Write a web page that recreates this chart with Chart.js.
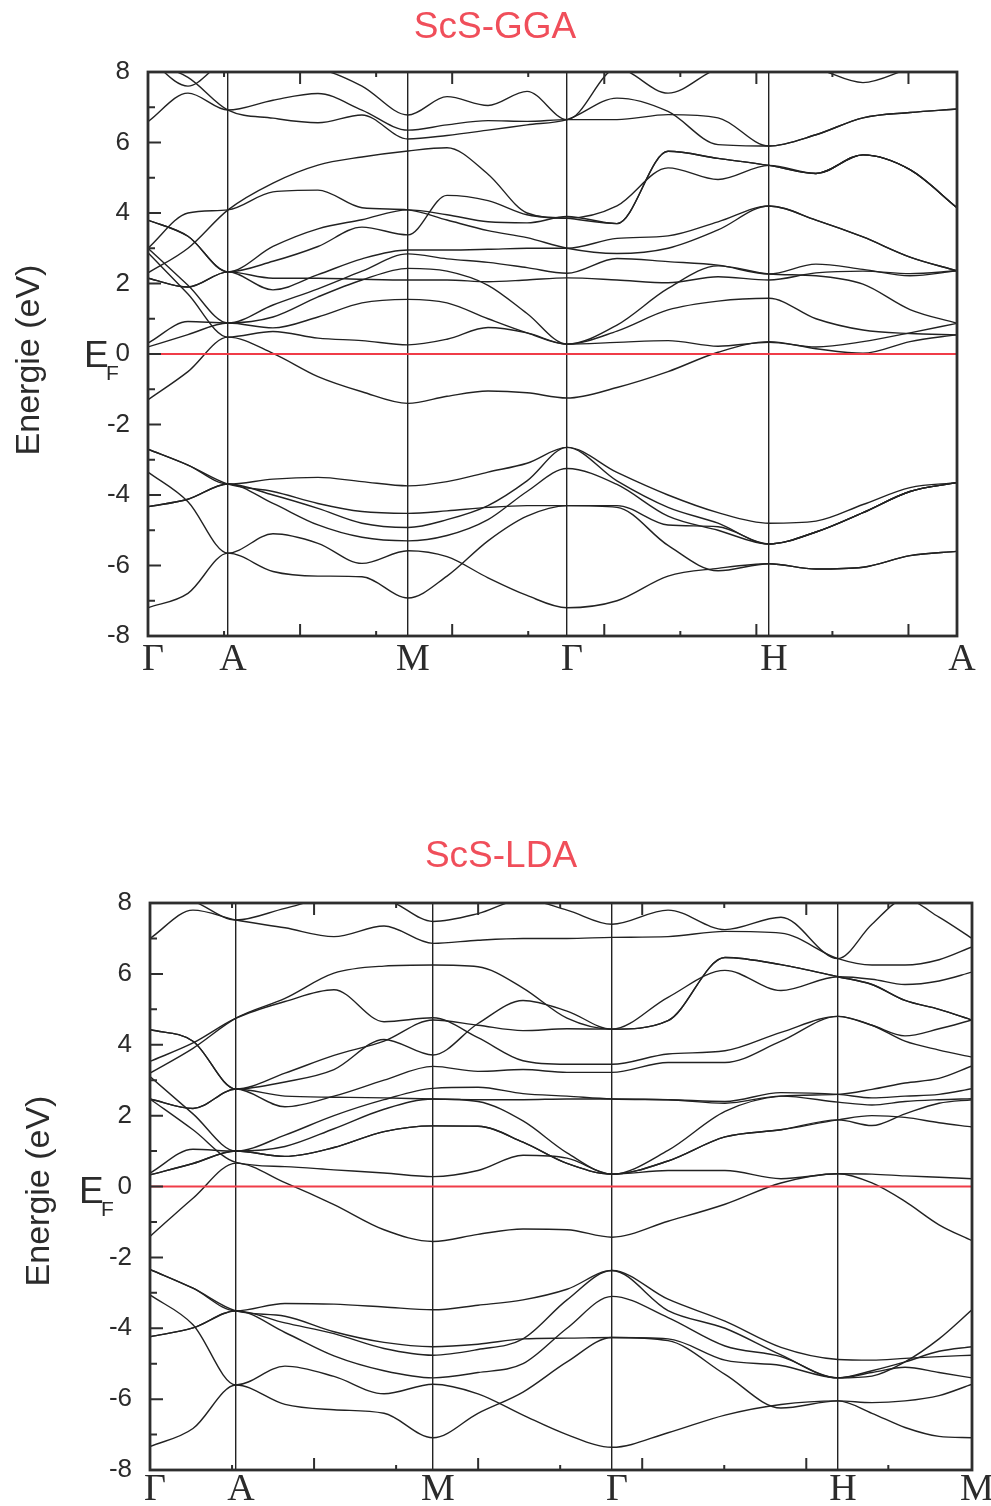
<!DOCTYPE html>
<html>
<head>
<meta charset="utf-8">
<script src="https://cdn.jsdelivr.net/npm/chart.js@4.4.0/dist/chart.umd.min.js"></script>
<style>
  html, body { margin: 0; padding: 0; background: #fff; }
  .panel { position: absolute; left: 0; }
  #gga-wrap { top: 0; }
  #lda-wrap { top: 780px; }
</style>
</head>
<body>
<div class="panel" id="gga-wrap"><canvas id="gga" width="991" height="700"></canvas></div>
<div class="panel" id="lda-wrap"><canvas id="lda" width="991" height="726"></canvas></div>
<script>
// k-path: high-symmetry points and sampling positions along the path
const symLabelsGGA = ['Γ', 'A', 'M', 'Γ', 'H', 'A'];
const symKGGA = [0, 0.0989, 0.3214, 0.5179, 0.7676, 1];
const kGGA = [0, 0.0494, 0.0989, 0.1545, 0.2101, 0.2645, 0.3214, 0.3696, 0.4203, 0.4685,
              0.5179, 0.5797, 0.6428, 0.7046, 0.7676, 0.8257, 0.8838, 0.9419, 1];

const symLabelsLDA = ['Γ', 'A', 'M', 'Γ', 'H', 'M'];
const symKLDA = [0, 0.1046, 0.3443, 0.5620, 0.8370, 1];
const kLDA = [0, 0.0523, 0.1046, 0.1642, 0.2238, 0.2847, 0.3443, 0.3990, 0.4538, 0.5073,
              0.5620, 0.6302, 0.6995, 0.7676, 0.8370, 0.8783, 0.9185, 0.9599, 1];

const energyTicks = [-8, -6, -4, -2, 0, 2, 4, 6, 8];
const fermiLevel = 0;

// ScS GGA bands (eV), one value per k sample
const ggaV1 = [-2.70, -3.15, -3.69, -3.55, -3.50, -3.62, -3.74, -3.62, -3.35, -3.10, -2.65, -3.36, -4.00, -4.50, -4.80, -4.74, -4.27, -3.79, -3.65];
const ggaV2 = [-2.70, -3.15, -3.69, -3.90, -4.24, -4.47, -4.52, -4.45, -4.35, -4.30, -4.30, -4.30, -4.85, -4.90, -5.39, -5.05, -4.50, -3.90, -3.65];
const ggaV3 = [-3.35, -4.19, -5.65, -5.10, -5.37, -5.94, -5.58, -5.75, -6.35, -6.85, -7.20, -7.00, -6.30, -6.08, -5.95, -6.10, -6.05, -5.72, -5.60];
const ggaV4 = [-4.33, -4.12, -3.69, -4.00, -4.38, -4.80, -4.92, -4.70, -4.30, -3.60, -2.65, -3.60, -4.35, -4.80, -5.39, -5.05, -4.50, -3.90, -3.65];
const ggaV5 = [-7.20, -6.79, -5.65, -6.17, -6.30, -6.32, -6.92, -6.30, -5.30, -4.60, -4.30, -4.35, -5.43, -6.15, -5.95, -6.10, -6.05, -5.72, -5.60];
const ggaV6 = [-4.33, -4.12, -3.69, -4.24, -4.85, -5.20, -5.30, -5.15, -4.70, -3.90, -3.25, -3.70, -4.60, -5.00, -5.39, -5.05, -4.50, -3.90, -3.65];
const ggaF  = [-1.30, -0.50, 0.48, 0.02, -0.64, -1.07, -1.40, -1.20, -1.05, -1.10, -1.25, -0.95, -0.50, 0.05, 0.35, 0.15, 0.02, 0.35, 0.55];
const ggaC1 = [0.20, 0.55, 0.88, 0.74, 1.05, 1.45, 1.55, 1.45, 1.00, 0.60, 0.28, 0.65, 1.25, 1.50, 1.58, 1.00, 0.68, 0.58, 0.54];
const ggaC2 = [2.87, 1.70, 0.48, 0.64, 0.45, 0.38, 0.26, 0.42, 0.75, 0.60, 0.28, 0.33, 0.38, 0.22, 0.33, 0.20, 0.35, 0.60, 0.87];
const ggaC3 = [0.31, 0.92, 0.88, 1.05, 1.62, 2.10, 2.43, 2.35, 1.95, 1.15, 0.28, 0.82, 1.86, 2.50, 2.27, 2.22, 1.98, 1.26, 0.87];
const ggaC4 = [2.15, 1.90, 2.33, 2.15, 2.15, 2.12, 2.10, 2.10, 2.05, 2.10, 2.16, 2.10, 2.02, 2.19, 2.10, 2.30, 2.35, 2.28, 2.36];
const ggaC5 = [3.00, 1.95, 0.88, 1.39, 1.85, 2.35, 2.84, 2.70, 2.60, 2.45, 2.29, 2.71, 2.62, 2.52, 2.27, 2.55, 2.40, 2.22, 2.36];
const ggaC6 = [2.15, 1.90, 2.33, 1.82, 2.25, 2.70, 2.95, 2.95, 2.97, 3.00, 3.00, 3.28, 3.35, 3.75, 4.20, 3.80, 3.32, 2.75, 2.36];
const ggaC7 = [3.00, 4.00, 4.09, 4.60, 4.65, 4.15, 4.09, 3.80, 3.50, 3.30, 3.00, 2.85, 3.00, 3.52, 4.20, 3.80, 3.32, 2.75, 2.36];
const ggaC8 = [3.80, 3.34, 2.33, 3.05, 3.55, 3.81, 4.09, 3.95, 3.75, 3.72, 3.90, 3.70, 5.75, 5.55, 5.35, 5.12, 5.65, 5.23, 4.15];
const ggaC9 = [3.80, 3.34, 2.33, 2.63, 3.05, 3.60, 3.38, 4.50, 4.35, 3.95, 3.85, 3.70, 5.75, 5.55, 5.35, 5.12, 5.65, 5.23, 4.15];
const ggaC10 = [2.30, 3.00, 4.09, 4.85, 5.36, 5.59, 5.76, 5.85, 5.10, 4.00, 3.85, 4.20, 5.28, 4.95, 5.35, 5.12, 5.65, 5.23, 4.15];
const ggaU1 = [6.59, 7.40, 6.92, 7.20, 7.39, 6.92, 6.35, 6.50, 6.62, 6.60, 6.65, 6.65, 6.79, 6.70, 5.90, 6.22, 6.70, 6.85, 6.95];
const ggaU2 = [8.30, 7.85, 6.92, 6.69, 6.56, 6.78, 6.10, 6.20, 6.35, 6.50, 6.65, 7.26, 6.88, 5.94, 5.90, 6.22, 6.70, 6.85, 6.95];
const ggaU3 = [8.40, 7.60, 8.30, 8.20, 8.10, 7.60, 6.78, 7.30, 7.05, 7.45, 6.65, 8.10, 7.40, 8.10, 8.30, 8.10, 7.70, 8.10, 8.40];

// ScS LDA bands (eV)
const ldaV1 = [-2.34, -2.87, -3.51, -3.30, -3.32, -3.40, -3.48, -3.35, -3.20, -2.90, -2.37, -3.18, -3.80, -4.54, -4.88, -4.90, -4.85, -4.80, -4.76];
const ldaV2 = [-2.34, -2.87, -3.51, -3.66, -4.10, -4.40, -4.52, -4.45, -4.30, -4.28, -4.26, -4.30, -4.90, -5.05, -5.40, -5.25, -5.10, -5.25, -5.40];
const ldaV3 = [-3.06, -3.90, -5.60, -5.07, -5.36, -5.85, -5.58, -5.85, -6.45, -7.00, -7.36, -6.95, -6.45, -6.15, -6.05, -6.10, -6.05, -5.90, -5.58];
const ldaV4 = [-4.24, -3.99, -3.51, -3.85, -4.15, -4.57, -4.76, -4.60, -4.30, -3.20, -2.37, -3.50, -4.00, -4.75, -5.40, -5.35, -4.95, -4.30, -3.48];
const ldaV5 = [-7.34, -6.83, -5.60, -6.15, -6.30, -6.40, -7.09, -6.40, -5.80, -4.95, -4.26, -4.35, -5.30, -6.25, -6.05, -6.40, -6.80, -7.05, -7.09];
const ldaV6 = [-4.24, -3.99, -3.51, -4.12, -4.78, -5.20, -5.40, -5.25, -5.00, -4.00, -3.10, -3.70, -4.50, -4.80, -5.40, -5.20, -4.95, -4.65, -4.52];
const ldaF  = [-1.41, -0.33, 0.66, 0.11, -0.51, -1.22, -1.55, -1.35, -1.20, -1.22, -1.43, -0.98, -0.50, 0.10, 0.36, 0.10, -0.42, -1.08, -1.53];
const ldaC1 = [0.33, 0.65, 1.00, 0.85, 1.10, 1.55, 1.71, 1.70, 1.25, 0.65, 0.35, 0.72, 1.40, 1.60, 1.88, 2.00, 1.95, 1.80, 1.68];
const ldaC2 = [2.47, 1.60, 0.68, 0.56, 0.47, 0.38, 0.28, 0.45, 0.88, 0.80, 0.35, 0.45, 0.45, 0.22, 0.36, 0.35, 0.30, 0.26, 0.22];
const ldaC3 = [0.38, 1.05, 1.00, 1.13, 1.63, 2.18, 2.47, 2.40, 1.85, 0.95, 0.35, 1.02, 2.12, 2.55, 2.60, 2.74, 2.92, 3.05, 3.40];
const ldaC4 = [2.47, 2.20, 2.75, 2.55, 2.52, 2.50, 2.47, 2.45, 2.45, 2.47, 2.47, 2.45, 2.35, 2.55, 2.38, 2.30, 2.40, 2.45, 2.48];
const ldaC5 = [3.10, 2.05, 1.00, 1.45, 2.00, 2.45, 2.77, 2.80, 2.62, 2.55, 2.47, 2.45, 2.40, 2.65, 2.60, 2.50, 2.55, 2.60, 2.76];
const ldaC6 = [2.47, 2.20, 2.75, 2.25, 2.55, 3.00, 3.39, 3.25, 3.30, 3.22, 3.22, 3.50, 3.50, 4.10, 4.80, 4.55, 4.10, 3.85, 3.65];
const ldaC7 = [3.53, 4.05, 4.75, 5.22, 5.55, 4.65, 4.76, 4.20, 3.55, 3.45, 3.45, 3.74, 3.83, 4.35, 4.80, 4.55, 4.25, 4.45, 4.70];
const ldaC8 = [4.43, 4.10, 2.75, 3.20, 3.70, 4.10, 4.70, 4.55, 4.40, 4.45, 4.44, 4.68, 6.46, 6.26, 5.92, 5.70, 5.25, 5.00, 4.70];
const ldaC9 = [4.43, 4.10, 2.75, 2.95, 3.30, 4.15, 3.71, 4.60, 5.25, 4.95, 4.44, 4.68, 6.46, 6.26, 5.92, 5.70, 5.25, 5.00, 4.70];
const ldaC10 = [3.20, 3.90, 4.75, 5.31, 6.02, 6.22, 6.25, 6.20, 5.60, 4.75, 4.44, 5.34, 6.10, 5.53, 5.92, 5.85, 5.70, 5.80, 6.05];
const ldaC11 = [0.33, 0.65, 1.00, 0.85, 1.10, 1.55, 1.71, 1.70, 1.25, 0.65, 0.35, 0.72, 1.40, 1.60, 1.88, 1.72, 2.05, 2.35, 2.45];
const ldaU1 = [7.00, 7.80, 7.52, 7.30, 7.05, 7.35, 6.86, 6.95, 7.00, 7.00, 7.03, 7.05, 7.20, 7.15, 6.43, 6.25, 6.25, 6.40, 6.76];
const ldaU2 = [8.30, 8.05, 7.52, 7.85, 8.15, 8.10, 7.48, 7.70, 8.10, 7.80, 7.40, 7.80, 7.25, 7.60, 6.43, 7.40, 8.10, 7.60, 7.00];

const ggaBands = [ggaV1, ggaV2, ggaV3, ggaV4, ggaV5, ggaV6, ggaF, ggaC1, ggaC2, ggaC3, ggaC4,
                  ggaC5, ggaC6, ggaC7, ggaC8, ggaC9, ggaC10, ggaU1, ggaU2, ggaU3];
const ldaBands = [ldaV1, ldaV2, ldaV3, ldaV4, ldaV5, ldaV6, ldaF, ldaC1, ldaC2, ldaC3, ldaC4,
                  ldaC5, ldaC6, ldaC7, ldaC8, ldaC9, ldaC10, ldaC11, ldaU1, ldaU2];

const SANS = '"Liberation Sans", Arial, sans-serif';
const SERIF = '"Liberation Serif", "Times New Roman", serif';

// frame, inward ticks, panel title, E_F mark and energy axis title
const panelDecor = {
    id: 'panelDecor',
    afterDraw: function(chart, args, opts) {
        const ctx = chart.ctx;
        const a = chart.chartArea;
        const x = chart.scales.x;
        const y = chart.scales.y;
        ctx.save();

        ctx.strokeStyle = '#2e2e2e';
        ctx.lineWidth = 2.8;
        ctx.strokeRect(a.left, a.top, a.right - a.left, a.bottom - a.top);

        ctx.lineWidth = 2;
        ctx.beginPath();
        for (let e = -7; e <= 7; e++) {
            const py = y.getPixelForValue(e);
            ctx.moveTo(a.left, py);
            ctx.lineTo(a.left + (e % 2 === 0 ? 13 : 7), py);
        }
        for (let n = 1; n * opts.kStep < 0.99; n++) {
            const px = x.getPixelForValue(n * opts.kStep);
            const len = n % 2 === 0 ? 12 : 5;
            ctx.moveTo(px, a.bottom);
            ctx.lineTo(px, a.bottom - len);
            ctx.moveTo(px, a.top);
            ctx.lineTo(px, a.top + len);
        }
        ctx.stroke();

        ctx.fillStyle = '#f04e5a';
        ctx.font = '37px ' + SANS;
        ctx.textAlign = 'center';
        ctx.textBaseline = 'alphabetic';
        ctx.fillText(opts.title, opts.titleX, opts.titleY);

        ctx.fillStyle = '#2b2b2b';
        ctx.textAlign = 'left';
        ctx.font = '37px ' + SANS;
        ctx.fillText('E', opts.efX, opts.efY);
        ctx.font = '21px ' + SANS;
        ctx.fillText('F', opts.efX + 22, opts.efY + 13);

        ctx.translate(opts.axisTitleX, opts.axisTitleY);
        ctx.rotate(-Math.PI / 2);
        ctx.textAlign = 'center';
        ctx.textBaseline = 'middle';
        ctx.font = '34px ' + SANS;
        ctx.fillText('Energie (eV)', 0, 0);
        ctx.restore();
    }
};

function bandDatasets(kGrid, bands) {
    const sets = [{
        data: [{ x: 0, y: fermiLevel }, { x: 1, y: fermiLevel }],
        borderColor: '#f03c48',
        borderWidth: 2,
        order: 0
    }];
    bands.forEach(function(band) {
        sets.push({
            data: kGrid.map((k, i) => ({ x: k, y: band[i] })),
            borderColor: '#222',
            borderWidth: 1.4,
            cubicInterpolationMode: 'monotone',
            order: 1
        });
    });
    return sets;
}

function makePanel(id, cfg) {
    return new Chart(document.getElementById(id), {
        type: 'line',
        data: { datasets: bandDatasets(cfg.kGrid, cfg.bands) },
        options: {
            responsive: false,
            animation: false,
            events: [],
            elements: { point: { radius: 0 } },
            layout: { padding: { top: cfg.top, right: cfg.right, left: 0, bottom: 0 } },
            plugins: {
                legend: { display: false },
                tooltip: { enabled: false },
                panelDecor: cfg.decor
            },
            scales: {
                x: {
                    type: 'linear',
                    min: 0,
                    max: 1,
                    border: { display: false },
                    grid: { color: '#222', lineWidth: 1.4, drawTicks: false },
                    afterBuildTicks: function(scale) {
                        scale.ticks = cfg.symK.map(v => ({ value: v }));
                    },
                    afterFit: function(scale) { scale.height = cfg.xHeight; },
                    ticks: {
                        autoSkip: false,
                        maxRotation: 0,
                        padding: cfg.xPad,
                        labelOffset: 5,
                        color: '#2b2b2b',
                        font: { family: SERIF, size: 38, lineHeight: 1 },
                        callback: (value, index) => cfg.symLabels[index]
                    }
                },
                y: {
                    min: -8,
                    max: 8,
                    border: { display: false },
                    grid: { display: false },
                    afterBuildTicks: function(scale) {
                        scale.ticks = energyTicks.map(v => ({ value: v }));
                    },
                    afterFit: function(scale) { scale.width = cfg.yWidth; },
                    ticks: {
                        padding: 10,
                        color: '#2b2b2b',
                        font: { family: SANS, size: 26 },
                        callback: value => String(value)
                    }
                }
            }
        },
        plugins: [panelDecor]
    });
}

makePanel('gga', {
    kGrid: kGGA, bands: ggaBands, symK: symKGGA, symLabels: symLabelsGGA,
    top: 72, right: 34, yWidth: 148, xHeight: 64, xPad: 5,
    decor: { title: 'ScS-GGA', titleX: 495, titleY: 38, efX: 84, efY: 367,
             axisTitleX: 30, axisTitleY: 360, kStep: 0.094 }
});

makePanel('lda', {
    kGrid: kLDA, bands: ldaBands, symK: symKLDA, symLabels: symLabelsLDA,
    top: 123, right: 19, yWidth: 150, xHeight: 36, xPad: 1,
    decor: { title: 'ScS-LDA', titleX: 501, titleY: 87, efX: 79, efY: 423,
             axisTitleX: 40, axisTitleY: 411, kStep: 0.0998 }
});
</script>
</body>
</html>
